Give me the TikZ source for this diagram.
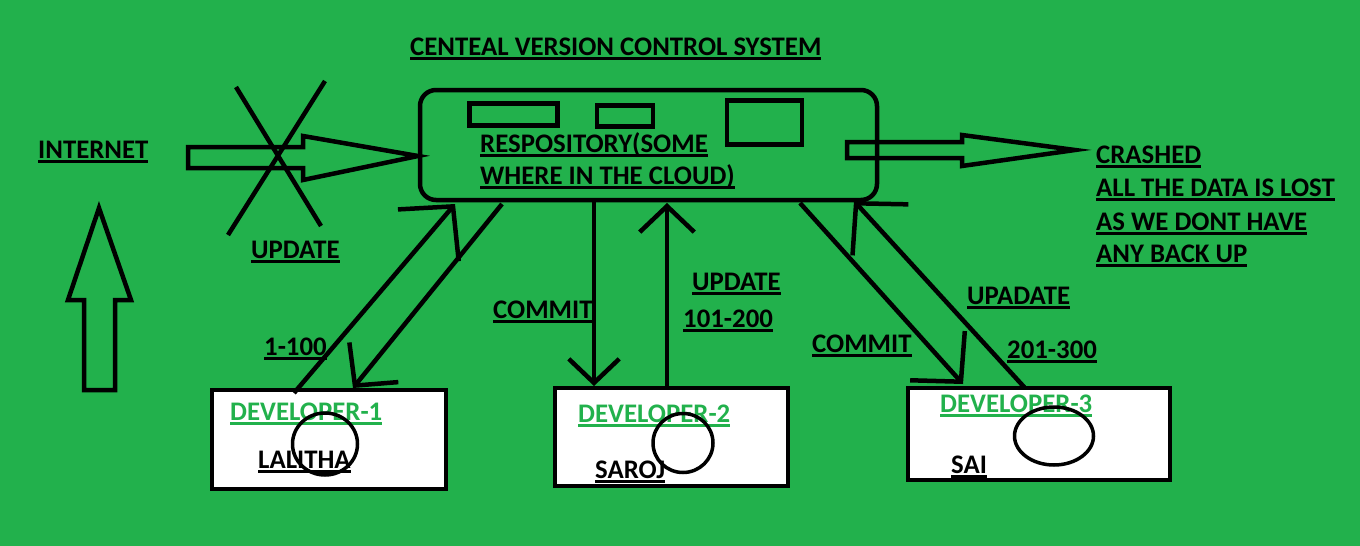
\documentclass[tikz,border=0pt]{standalone}
\usepackage{fontspec}
\setmainfont{Carlito}
\usetikzlibrary{arrows.meta,shapes.geometric}
\definecolor{bg}{HTML}{22B14C}
\newcommand\ulx[1]{\setbox0\hbox{#1}\leavevmode\rlap{\rule[-4.5pt]{\wd0}{2.4pt}}\box0}
\begin{document}
\begin{tikzpicture}[x=1pt,y=-1pt,
  lbl/.style={anchor=base west, inner sep=0pt, font=\fontsize{26.8}{30}\selectfont\bfseries},
  devlbl/.style={lbl, text=bg},
  devbox/.style={draw, fill=white, line width=4.5pt, inner sep=0pt},
  smallbox/.style={draw, line width=4.5pt, inner sep=0pt},
  face/.style={draw, ellipse, line width=3.5pt, inner sep=0pt},
  conn/.style={line width=4.5pt},
  blk/.style={line width=4.5pt, line join=miter},
  tipA/.style={-{Straight Barb[length=#1pt,width=2.1*#1pt]}}
]
\fill[bg] (0,0) rectangle (1360,546);
\useasboundingbox (0,0) rectangle (1360,546);

% title
\node[lbl] (title) at (410,55) {\ulx{CENTEAL VERSION CONTROL SYSTEM}};

% repository
\node[draw, line width=4.5pt, rounded corners=16pt, inner sep=0pt,
      minimum width=457pt, minimum height=110pt] (repo) at (648.5,145) {};
\node[smallbox, minimum width=88pt, minimum height=22pt] (rb1) at (513.5,114.5) {};
\node[smallbox, minimum width=56pt, minimum height=21pt] (rb2) at (625,116) {};
\node[smallbox, minimum width=75pt, minimum height=44pt] (rb3) at (764.5,122.5) {};
\node[lbl] (repo1) at (480,152) {\ulx{RESPOSITORY(SOME}};
\node[lbl] (repo2) at (480,184) {\ulx{WHERE IN THE CLOUD)}};

% internet side
\node[lbl] (inet) at (38,158) {\ulx{INTERNET}};
\draw[blk] (84,390) -- (84,300) -- (68,300) -- (99,208) -- (131,300) -- (115,300) -- (115,390) -- cycle;
\coordinate (intip) at (418,156);
\draw[blk] (188,147) -- (303,147) -- (303,136) -- (intip) -- (303,180) -- (303,168) -- (188,168) -- cycle;
\draw[conn] (236,87) -- (321,226);
\draw[conn] (325,81) -- (228,235);
\node[lbl] (upd0) at (251,258) {\ulx{UPDATE}};

% crashed side
\coordinate (outtip) at (1075,150);
\draw[blk] (847,142) -- (962,142) -- (962,135) -- (outtip) -- (962,166) -- (962,158) -- (847,158) -- cycle;
\node[lbl] (cr1) at (1096,163) {\ulx{CRASHED}};
\node[lbl] (cr2) at (1096,196) {\ulx{ALL THE DATA IS LOST}};
\node[lbl] (cr3) at (1096,230) {\ulx{AS WE DONT HAVE}};
\node[lbl] (cr4) at (1096,262) {\ulx{ANY BACK UP}};

% developers
\node[devbox, minimum width=234pt, minimum height=99pt] (dev1) at (329,439.5) {};
\node[devbox, minimum width=233pt, minimum height=98pt] (dev2) at (671.5,437) {};
\node[devbox, minimum width=262pt, minimum height=92pt] (dev3) at (1039,434) {};
\node[devlbl] (d1l) at (230,420) {\ulx{DEVELOPER-1}};
\node[devlbl] (d2l) at (578,422) {\ulx{DEVELOPER-2}};
\node[devlbl] (d3l) at (940,412) {\ulx{DEVELOPER-3}};
\node[lbl] (n1) at (258,468) {\ulx{LALITHA}};
\node[lbl] (n2) at (595,478) {\ulx{SAROJ}};
\node[lbl] (n3) at (951,473) {\ulx{SAI}};
\node[face, minimum width=65pt, minimum height=62pt] (f1) at (325,444) {};
\node[face, minimum width=60pt, minimum height=59pt] (f2) at (683,443) {};
\node[face, minimum width=79pt, minimum height=58pt] (f3) at (1054,436) {};

% connectors
\coordinate (a1s) at (294,393);  \coordinate (a1e) at (455,204);
\coordinate (b1s) at (502,204);  \coordinate (b1e) at (353,388);
\coordinate (a2s) at (594,202);  \coordinate (a2e) at (594,386);
\coordinate (b2s) at (667,388);  \coordinate (b2e) at (667,203);
\coordinate (a3s) at (800,203);  \coordinate (a3e) at (963,384);
\coordinate (b3s) at (1025,388); \coordinate (b3e) at (854,201);
\draw[conn, tipA=38] (a1s) -- (a1e);
\draw[conn, tipA=30] (b1s) -- (b1e);
\draw[conn, tipA=24] (a2s) -- (a2e);
\draw[conn, tipA=26] (b2s) -- (b2e);
\draw[conn, tipA=35] (a3s) -- (a3e);
\draw[conn, tipA=36] (b3s) -- (b3e);

\node[lbl] (l1) at (264,355) {\ulx{1-100}};
\node[lbl] (l2) at (493,318) {\ulx{COMMIT}};
\node[lbl] (l3) at (692,290) {\ulx{UPDATE}};
\node[lbl] (l4) at (683,327) {\ulx{101-200}};
\node[lbl] (l5) at (812,352) {\ulx{COMMIT}};
\node[lbl] (l6) at (967,304) {\ulx{UPADATE}};
\node[lbl] (l7) at (1007,358) {\ulx{201-300}};
\end{tikzpicture}
\end{document}
